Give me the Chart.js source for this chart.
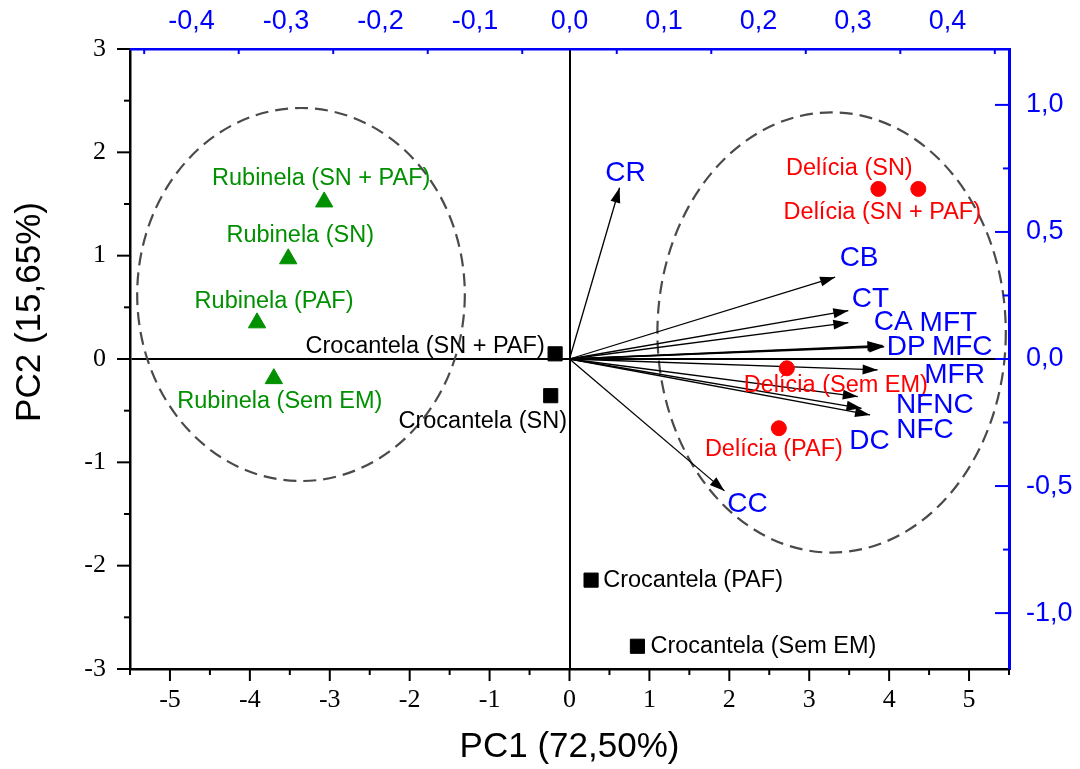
<!DOCTYPE html>
<html>
<head>
<meta charset="utf-8">
<script src="https://cdn.jsdelivr.net/npm/chart.js@4"></script>
<style>
  html, body { margin: 0; padding: 0; background: #fff; }
  #wrap { width: 1080px; height: 769px; }
</style>
</head>
<body>
<div id="wrap"><canvas id="pca"></canvas></div>
<script>
// PCA scores (PC1 / PC2)
const rubinelaLabels = ['Rubinela (SN + PAF)', 'Rubinela (SN)', 'Rubinela (PAF)', 'Rubinela (Sem EM)'];
const rubinelaPC1 = [-3.07, -3.52, -3.91, -3.70];
const rubinelaPC2 = [1.52, 0.97, 0.35, -0.19];

const crocantelaLabels = ['Crocantela (SN + PAF)', 'Crocantela (SN)', 'Crocantela (PAF)', 'Crocantela (Sem EM)'];
const crocantelaPC1 = [-0.18, -0.235, 0.27, 0.85];
const crocantelaPC2 = [0.05, -0.355, -2.14, -2.78];

const deliciaLabels = ['Delícia (SN)', 'Delícia (SN + PAF)', 'Delícia (Sem EM)', 'Delícia (PAF)'];
const deliciaPC1 = [3.865, 4.365, 2.72, 2.62];
const deliciaPC2 = [1.646, 1.646, -0.09, -0.67];

// loadings (top / right axes)
const variables = ['CR', 'CB', 'CT', 'CA', 'MFT', 'DP', 'MFC', 'MFR', 'NFNC', 'DC', 'NFC', 'CC'];
const loadPC1 = [0.053, 0.281, 0.295, 0.295, 0.331, 0.332, 0.333, 0.326, 0.305, 0.309, 0.318, 0.164];
const loadPC2 = [0.674, 0.322, 0.190, 0.143, 0.054, 0.051, 0.048, -0.043, -0.148, -0.194, -0.220, -0.519];

// group ellipses, in score units
const ellipseCX = [-3.36, 3.28];
const ellipseCY = [0.624, 0.257];
const ellipseRX = [2.05, 2.18];
const ellipseRY = [1.805, 2.13];

// label offsets in pixels from the mark
const rubinelaOffsets = [[-3, -23], [12, -23], [17, -21], [6, 23]];
const crocantelaOffsets = [[-130, -7], [-68, 26], [102, 0], [126, 0]];
const deliciaOffsets = [[-29, -20], [-36, 24], [49, 17], [-5, 21]];
const variableOffsets = [[6, -14], [24, -19], [22, -11], [45, 0], [66, -22], [23, 1], [78, 0], [77, 5], [77, 9], [8, 33], [55, 15], [23, 13]];

const BLUE = '#0000ff';
const GREEN = '#009000';
const RED = '#ff0000';
const SANS = '"Liberation Sans", Arial, sans-serif';
const SERIF = '"Liberation Serif", "Times New Roman", serif';

const pts = (xs, ys) => xs.map((x, i) => ({ x: x, y: ys[i] }));
const comma = v => (Math.abs(v) < 1e-9 ? 0 : v).toFixed(1).replace('.', ',');

const arrowSets = variables.map((name, i) => ({
  label: name,
  data: [{ x: 0, y: 0 }, { x: loadPC1[i], y: loadPC2[i] }],
  xAxisID: 'x2',
  yAxisID: 'y2',
  showLine: true,
  borderColor: '#000',
  borderWidth: 1.3,
  pointRadius: 0,
  isArrow: true,
  offset: variableOffsets[i]
}));

const scoreSets = [
  { label: 'Rubinela', data: pts(rubinelaPC1, rubinelaPC2), names: rubinelaLabels, offsets: rubinelaOffsets,
    pointStyle: 'triangle', pointRadius: 10, backgroundColor: GREEN, borderColor: GREEN, textColor: GREEN },
  { label: 'Crocantela', data: pts(crocantelaPC1, crocantelaPC2), names: crocantelaLabels, offsets: crocantelaOffsets,
    pointStyle: 'rect', pointRadius: 10, backgroundColor: '#000', borderColor: '#000', textColor: '#000' },
  { label: 'Delícia', data: pts(deliciaPC1, deliciaPC2), names: deliciaLabels, offsets: deliciaOffsets,
    pointStyle: 'circle', pointRadius: 7.5, backgroundColor: RED, borderColor: RED, textColor: RED }
];

// dashed ellipses around groups
const ellipses = {
  id: 'ellipses',
  beforeDatasetsDraw(chart) {
    const { ctx, scales } = chart;
    ctx.save();
    ctx.strokeStyle = '#4a4a4a';
    ctx.lineWidth = 2.2;
    ctx.setLineDash([13, 7]);
    ellipseCX.forEach((cx, i) => {
      const px = scales.x.getPixelForValue(cx);
      const py = scales.y.getPixelForValue(ellipseCY[i]);
      const rx = Math.abs(scales.x.getPixelForValue(cx + ellipseRX[i]) - px);
      const ry = Math.abs(scales.y.getPixelForValue(ellipseCY[i] + ellipseRY[i]) - py);
      ctx.beginPath();
      ctx.ellipse(px, py, rx, ry, 0, 0, Math.PI * 2);
      ctx.stroke();
    });
    ctx.restore();
  }
};

// arrowheads, text labels, tick marks, axis titles
const extras = {
  id: 'extras',
  afterDatasetsDraw(chart) {
    const { ctx } = chart;
    ctx.save();
    chart.data.datasets.forEach((ds, di) => {
      if (!ds.isArrow) return;
      const meta = chart.getDatasetMeta(di);
      const a = meta.data[0], b = meta.data[1];
      const ang = Math.atan2(b.y - a.y, b.x - a.x);
      const len = 15, hw = 5;
      ctx.fillStyle = '#000';
      ctx.beginPath();
      ctx.moveTo(b.x, b.y);
      ctx.lineTo(b.x - len * Math.cos(ang) + hw * Math.sin(ang), b.y - len * Math.sin(ang) - hw * Math.cos(ang));
      ctx.lineTo(b.x - len * Math.cos(ang) - hw * Math.sin(ang), b.y - len * Math.sin(ang) + hw * Math.cos(ang));
      ctx.closePath();
      ctx.fill();
    });
    ctx.textAlign = 'center';
    ctx.textBaseline = 'middle';
    chart.data.datasets.forEach((ds, di) => {
      const meta = chart.getDatasetMeta(di);
      if (ds.isArrow) {
        const b = meta.data[1];
        ctx.font = '28px ' + SANS;
        ctx.fillStyle = BLUE;
        ctx.fillText(ds.label, b.x + ds.offset[0], b.y + ds.offset[1]);
      } else {
        ctx.font = '23.5px ' + SANS;
        ctx.fillStyle = ds.textColor;
        meta.data.forEach((p, i) => {
          ctx.fillText(ds.names[i], p.x + ds.offsets[i][0], p.y + ds.offsets[i][1]);
        });
      }
    });
    ctx.restore();
  },
  afterDraw(chart) {
    const { ctx, chartArea: a, scales } = chart;
    const seg = (x1, y1, x2, y2) => { ctx.beginPath(); ctx.moveTo(x1, y1); ctx.lineTo(x2, y2); ctx.stroke(); };
    ctx.save();
    ctx.lineWidth = 2;
    ctx.strokeStyle = '#000';
    for (let k = -11; k <= 11; k++) {
      const px = scales.x.getPixelForValue(k / 2);
      seg(px, a.bottom, px, a.bottom + (k % 2 === 0 ? 12 : 6));
    }
    for (let k = -6; k <= 6; k++) {
      const py = scales.y.getPixelForValue(k / 2);
      seg(a.left, py, a.left - (k % 2 === 0 ? 13 : 6), py);
    }
    ctx.strokeStyle = BLUE;
    for (let k = -4; k <= 4; k++) {
      const py = scales.y2.getPixelForValue(k / 4);
      seg(a.right, py, a.right - (k % 2 === 0 ? 14 : 6), py);
    }
    for (let k = -9; k <= 9; k += 2) {
      const px = scales.x2.getPixelForValue(k / 20);
      seg(px, a.top, px, a.top + 5);
    }
    ctx.fillStyle = '#000';
    ctx.font = '35px ' + SANS;
    ctx.textAlign = 'center';
    ctx.textBaseline = 'middle';
    ctx.fillText('PC1 (72,50%)', (a.left + a.right) / 2, 747);
    ctx.translate(30, 312);
    ctx.rotate(-Math.PI / 2);
    ctx.fillText('PC2 (15,65%)', 0, 0);
    ctx.restore();
  }
};

const zeroLine = c => (c.tick && Math.abs(c.tick.value) < 1e-9 ? '#000' : 'rgba(0,0,0,0)');

new Chart(document.getElementById('pca'), {
  type: 'scatter',
  data: { datasets: [...scoreSets, ...arrowSets] },
  options: {
    responsive: true,
    maintainAspectRatio: false,
    animation: false,
    layout: { padding: 0 },
    plugins: { legend: { display: false }, tooltip: { enabled: false } },
    scales: {
      x: {
        position: 'bottom', min: -5.5, max: 5.5,
        ticks: { stepSize: 0.5, autoSkip: false, maxRotation: 0, includeBounds: false, padding: 16,
          callback: v => (Number.isInteger(v) ? String(v) : ''),
          color: '#000', font: { family: SERIF, size: 26 } },
        grid: { drawTicks: false, color: zeroLine, lineWidth: 2 },
        border: { color: '#000', width: 2.5 },
        afterFit: s => { s.height = 100; }
      },
      y: {
        position: 'left', min: -3, max: 3,
        ticks: { stepSize: 1, includeBounds: false, padding: 24, color: '#000', font: { family: SERIF, size: 26 } },
        grid: { drawTicks: false, color: zeroLine, lineWidth: 2 },
        border: { color: '#000', width: 2.5 },
        afterFit: s => { s.width = 130; }
      },
      x2: {
        position: 'top', min: -0.465, max: 0.465,
        ticks: { stepSize: 0.1, includeBounds: false, autoSkip: false, maxRotation: 0, padding: 11,
          callback: v => comma(v), color: BLUE, font: { family: SANS, size: 27 } },
        grid: { display: false, drawTicks: false },
        border: { color: BLUE, width: 2.5 },
        afterFit: s => { s.height = 49; }
      },
      y2: {
        position: 'right', min: -1.22, max: 1.22,
        ticks: { stepSize: 0.5, includeBounds: false, padding: 17,
          callback: v => comma(v), color: BLUE, font: { family: SANS, size: 27 } },
        grid: { display: false, drawTicks: false },
        border: { color: BLUE, width: 3 },
        afterFit: s => { s.width = 71; }
      }
    }
  },
  plugins: [ellipses, extras]
});
</script>
</body>
</html>
